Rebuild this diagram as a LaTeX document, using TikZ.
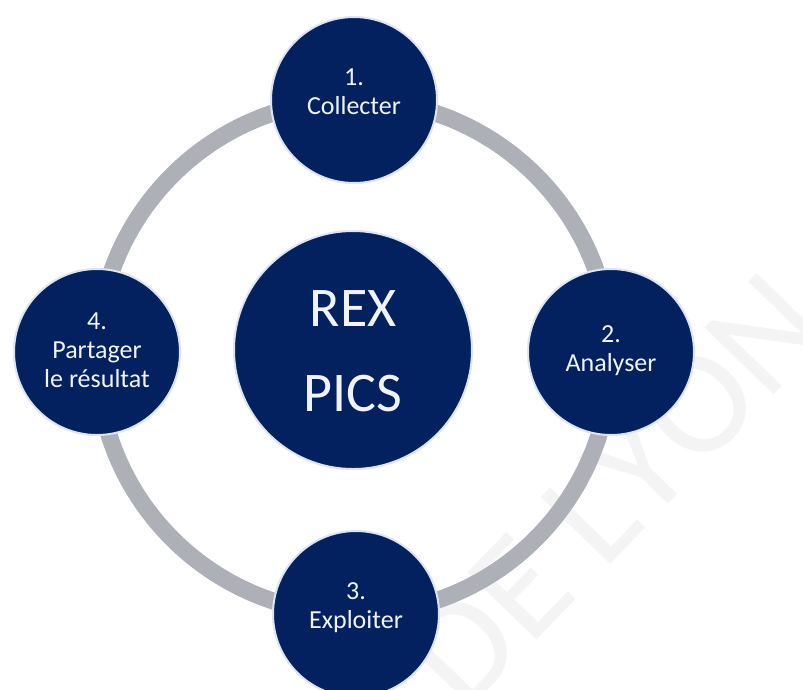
\documentclass[tikz,border=0pt]{standalone}
\usepackage{fontspec}
\setmainfont{Carlito}
\definecolor{navy}{RGB}{3,33,94}
\definecolor{ringgray}{RGB}{173,176,182}
\definecolor{rimcol}{RGB}{222,229,242}
\definecolor{txtcol}{RGB}{240,244,250}
\definecolor{wmark}{RGB}{244,244,244}
\begin{document}
\begin{tikzpicture}[x=1pt,y=-1pt,
  stepcircle/.style={circle,fill=navy,draw=rimcol,line width=2pt,minimum size=166pt,inner sep=0pt},
  hubcircle/.style={circle,fill=navy,draw=rimcol,line width=2pt,minimum size=238pt,inner sep=0pt},
  steptext/.style={text=txtcol,align=center,font=\fontsize{26}{29}\selectfont},
  hubtext/.style={text=txtcol,align=center,font=\fontsize{56}{85}\selectfont},
  wmletter/.style={text=wmark,rotate=46,inner sep=0pt,font=\fontsize{150}{150}\selectfont},
  ringline/.style={draw=ringgray,line width=17pt}]
\useasboundingbox (0,0) rectangle (803,689);
\fill[white] (0,0) rectangle (803,689);
% faint watermark
\node[wmletter] (wmD) at (462,648) {D};
\node[wmletter] (wmE) at (520,588) {E};
\node[wmletter] (wmL) at (591,515) {L};
\node[wmletter] (wmY) at (638,466) {Y};
\node[wmletter] (wmO) at (698,404) {O};
\node[wmletter] (wmN) at (766,334) {N};
% ring
\coordinate (ringc) at (354,357);
\draw[ringline] (ringc) circle[radius=257];
% hub
\node[hubcircle] (hub) at (353,350) {};
\node[hubtext] (hubt) at (353,351) {REX\\PICS};
% steps
\node[stepcircle] (c1) at (354,100) {};
\node[stepcircle] (c2) at (611,352) {};
\node[stepcircle] (c3) at (356,614) {};
\node[stepcircle] (c4) at (97,352) {};
\node[steptext] (t1) at (354,92) {1.\\Collecter};
\node[steptext] (t2) at (611,351) {2.\\Analyser};
\node[steptext] (t3) at (356,608) {3.\\Exploiter};
\node[steptext] (t4) at (97,350) {4.\\Partager\\le résultat};
\end{tikzpicture}
\end{document}
